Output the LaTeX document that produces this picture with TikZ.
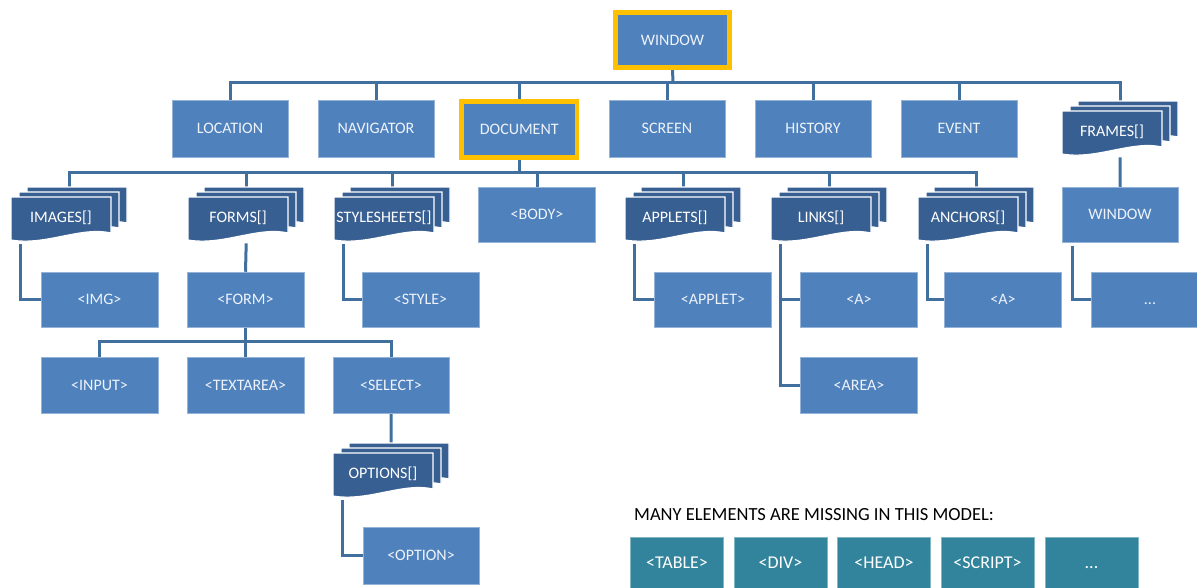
\documentclass[tikz,border=0pt]{standalone}
\usepackage{fontspec}
\setmainfont{Carlito}
\usetikzlibrary{backgrounds}
\definecolor{boxblue}{HTML}{4F81BD}
\definecolor{docdark}{HTML}{385F91}
\definecolor{goldc}{HTML}{FFC000}
\definecolor{linec}{HTML}{41709F}
\definecolor{tealc}{HTML}{31849B}
\definecolor{boxtext}{HTML}{EEF3FA}
\newcommand\mdoc[4]{%
  \foreach \pgo in {16,8,0}{%
    \path[page] ({#2+\pgo},{#3-\pgo*5/8}) -- ({#2+\pgo+100},{#3-\pgo*5/8}) -- ({#2+\pgo+100},{#3-\pgo*5/8+36}) .. controls ({#2+\pgo+70},{#3-\pgo*5/8+29}) and ({#2+\pgo+35},{#3-\pgo*5/8+49}) .. ({#2+\pgo},{#3-\pgo*5/8+43}) -- cycle;
  }%
  \node[doctext] (#1-t) at ({#2+50},{#3+20}) {#4};
  \node[inner sep=0pt, minimum width=116pt, minimum height=56pt, anchor=north west] (#1) at (#2,{#3-10}) {};
  \coordinate (#1-e) at ({#2+9},{#3+47});
}
\begin{document}
\begin{tikzpicture}[x=1pt,y=-1pt,
  box/.style={rectangle, fill=boxblue, draw=boxblue!60!white, line width=0.5pt, text=boxtext,
    font=\fontsize{16}{18}\selectfont, text height=10.5pt, text depth=0pt,
    minimum width=117pt, minimum height=56pt, inner sep=0pt},
  hlbox/.style={box, draw=goldc, line width=4.5pt},
  doctext/.style={text=white, font=\fontsize{16}{18}\selectfont, text height=10.5pt, text depth=0pt, inner sep=0pt},
  page/.style={fill=docdark, draw=white, line width=1.2pt},
  conn/.style={draw=linec, line width=3pt},
  tealbox/.style={rectangle, fill=tealc, draw=tealc!60!white, line width=0.5pt, text=white,
    font=\fontsize{18}{20}\selectfont, text height=11.5pt, text depth=0pt,
    minimum width=93pt, minimum height=52pt, inner sep=0pt}]
\useasboundingbox (0,0) rectangle (1197,587);

% top
\node[hlbox, minimum width=114pt, minimum height=55pt] (win) at (672.5,40) {WINDOW};
% row 2
\node[box, minimum width=116pt, minimum height=57pt] (loc) at (230,128.5) {LOCATION};
\node[box, minimum width=116pt, minimum height=57pt] (nav) at (376,128.5) {NAVIGATOR};
\node[hlbox, minimum width=115.5pt, minimum height=56pt] (doc) at (519.25,129.5) {DOCUMENT};
\node[box, minimum width=116pt, minimum height=57pt] (scr) at (667,128.5) {SCREEN};
\node[box, minimum width=116pt, minimum height=57pt] (his) at (813,128.5) {HISTORY};
\node[box, minimum width=116pt, minimum height=57pt] (evt) at (959,128.5) {EVENT};
\mdoc{frames}{1062}{111}{FRAMES[]}
% row 3
\mdoc{imgs}{11}{197}{IMAGES[]}
\mdoc{forms}{188}{197}{FORMS[]}
\mdoc{styles}{334}{197}{STYLESHEETS[]}
\node[box, minimum height=55pt] (body) at (537,214.5) {<BODY>};
\mdoc{applets}{625}{197}{APPLETS[]}
\mdoc{links}{771}{197}{LINKS[]}
\mdoc{anch}{918}{197}{ANCHORS[]}
\node[box, minimum width=116pt, minimum height=55pt] (win2) at (1120,214.5) {WINDOW};
\coordinate (win2-e) at (1072,246);
% row 4
\node[box, minimum height=55pt] (img) at (99.5,299.5) {<IMG>};
\node[box, minimum height=55pt] (form) at (245.5,299.5) {<FORM>};
\node[box, minimum height=55pt] (style) at (420.5,299.5) {<STYLE>};
\node[box, minimum height=55pt] (applet) at (713,299.5) {<APPLET>};
\node[box, minimum height=55pt] (a1) at (859,299.5) {<A>};
\node[box, minimum height=55pt] (a2) at (1003,299.5) {<A>};
% row 5
\node[box] (input) at (99.5,385) {<INPUT>};
\node[box] (textarea) at (245.5,385) {<TEXTAREA>};
\node[box, minimum width=116pt] (select) at (391,385) {<SELECT>};
\node[box] (area) at (859,385) {<AREA>};
\mdoc{opts}{333}{453}{OPTIONS[]}
\node[box, minimum width=116pt, minimum height=57pt] (option) at (421,555.5) {<OPTION>};

% caption and clipped boxes
\node[anchor=west, font=\fontsize{18.5}{20}\selectfont, inner sep=0pt] (cap) at (634,515) {MANY ELEMENTS ARE MISSING IN THIS MODEL:};
\begin{scope}
\clip (0,0) rectangle (1197,587);
\node[box, minimum height=55pt] (dots) at (1150,299.5) {...};
\node[tealbox] (t1) at (677,563) {<TABLE>};
\node[tealbox] (t2) at (780.5,563) {<DIV>};
\node[tealbox] (t3) at (884,563) {<HEAD>};
\node[tealbox] (t4) at (987.5,563) {<SCRIPT>};
\node[tealbox] (t5) at (1091.5,563) {...};
\end{scope}

\begin{pgfonlayer}{background}
% bus 1
\coordinate (b1) at (673,82);
\draw[conn] (win.south) -- (b1);
\draw[conn] (loc.north) |- (b1) -| (frames.north);
\draw[conn] (nav.north) -- (nav.north |- b1);
\draw[conn] (doc.north) -- (doc.north |- b1);
\draw[conn] (scr.north) -- (scr.north |- b1);
\draw[conn] (his.north) -- (his.north |- b1);
\draw[conn] (evt.north) -- (evt.north |- b1);
% bus 2
\coordinate (b2) at (519.25,172);
\draw[conn] (doc.south) -- (b2);
\draw[conn] (imgs.north) |- (b2) -| (anch.north);
\draw[conn] (forms.north) -- (forms.north |- b2);
\draw[conn] (styles.north) -- (styles.north |- b2);
\draw[conn] (body.north) -- (body.north |- b2);
\draw[conn] (applets.north) -- (applets.north |- b2);
\draw[conn] (links.north) -- (links.north |- b2);
\draw[conn] (frames.south) -- (win2.north);
% row 4 links
\draw[conn] (imgs-e) |- (img.west);
\draw[conn] (forms.south) -- (form.north);
\draw[conn] (styles-e) |- (style.west);
\draw[conn] (applets-e) |- (applet.west);
\draw[conn] (links-e) |- (a1.west);
\draw[conn] (links-e) |- (area.west);
\draw[conn] (anch-e) |- (a2.west);
\draw[conn] (win2-e) |- (dots.west);
% bus 3
\coordinate (b3) at (245.5,341);
\draw[conn] (form.south) -- (b3);
\draw[conn] (input.north) |- (b3) -| (select.north);
\draw[conn] (textarea.north) -- (textarea.north |- b3);
\draw[conn] (select.south) -- (opts.north);
\draw[conn] (opts-e) |- (option.west);
\end{pgfonlayer}
\end{tikzpicture}
\end{document}
